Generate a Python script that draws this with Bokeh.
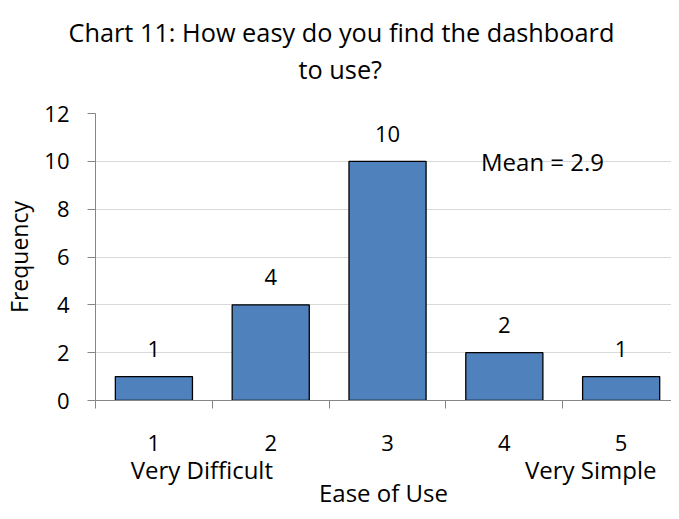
from bokeh.plotting import figure
from bokeh.models import Range1d, FixedTicker, Label, LinearAxis, Title
from bokeh.core.properties import value
from bokeh.embed import file_html
from bokeh.resources import INLINE

# ---- data ----
categories = [1, 2, 3, 4, 5]
frequency = [1, 4, 10, 2, 1]
y_ticks = [0, 2, 4, 6, 8, 10, 12]
title_lines = ["Chart 11: How easy do you find the dashboard", "to use?"]
scale_ends = ["Very Difficult", "Very Simple"]
x_title = "Ease of Use"
y_title = "Frequency"
mean_text = "Mean = 2.9"

FONT = "Open Sans"
AXIS_GREY = "#868686"
GRID_GREY = "#d9d9d9"
BAR_BLUE = "#4f81bd"

p = figure(width=671, height=511, output_backend="svg", toolbar_location=None,
           x_range=Range1d(0.5, 5.431), y_range=Range1d(0, 12),
           min_border_left=88, min_border_right=0, min_border_top=113,
           min_border_bottom=110)
p.outline_line_color = None
p.background_fill_color = "white"
p.border_fill_color = "white"

# x axis: labels at category centres, tick marks between categories
boundaries = [c - 0.5 for c in categories] + [categories[-1] + 0.5]
p.xaxis.ticker = FixedTicker(ticks=categories, minor_ticks=boundaries)
p.xaxis.major_tick_out = 0
p.xaxis.major_tick_in = 0
p.xaxis.minor_tick_out = 8
p.xaxis.minor_tick_in = 0
p.xaxis.minor_tick_line_color = AXIS_GREY
p.xaxis.axis_line_color = AXIS_GREY
p.xaxis.major_label_text_font = FONT
p.xaxis.major_label_text_font_size = "22px"
p.xaxis.major_label_text_color = "black"
p.xaxis.major_label_standoff = 26
p.xgrid.visible = False

# second row below the axis: scale-end captions and the axis title
end_positions = [1.41, 4.74]
caption_axis = LinearAxis(
    ticker=FixedTicker(ticks=end_positions),
    major_label_overrides={end_positions[0]: scale_ends[0],
                           end_positions[1]: scale_ends[1]},
    axis_line_color=None, major_tick_line_color=None,
    minor_tick_line_color=None, major_tick_out=0, major_tick_in=0,
    minor_tick_out=0, minor_tick_in=0,
    major_label_standoff=-1,
    major_label_text_font=FONT, major_label_text_font_size="24px",
    major_label_text_color="black",
    axis_label=x_title, axis_label_text_font=FONT,
    axis_label_text_font_size="24px", axis_label_text_font_style="normal",
    axis_label_text_color="black", axis_label_standoff=-13)
p.add_layout(caption_axis, "below")

# y axis
p.yaxis.ticker = FixedTicker(ticks=y_ticks)
p.yaxis.major_tick_out = 8
p.yaxis.major_tick_in = 0
p.yaxis.minor_tick_line_color = None
p.yaxis.major_tick_line_color = AXIS_GREY
p.yaxis.axis_line_color = AXIS_GREY
p.yaxis.major_label_text_font = FONT
p.yaxis.major_label_text_font_size = "22px"
p.yaxis.major_label_text_color = "black"
p.yaxis.major_label_standoff = 18
p.yaxis.axis_label = y_title
p.yaxis.axis_label_text_font = FONT
p.yaxis.axis_label_text_font_size = "23px"
p.yaxis.axis_label_text_font_style = "normal"
p.yaxis.axis_label_text_color = "black"
p.yaxis.axis_label_standoff = 6
p.ygrid.ticker = FixedTicker(ticks=y_ticks)
p.ygrid.grid_line_color = GRID_GREY
p.ygrid.grid_line_width = 1

# title: a blank spacer strip next to the frame, then the two title lines
spacer = LinearAxis(ticker=FixedTicker(ticks=[categories[0]]),
                    axis_line_color=None, major_tick_line_color="white",
                    minor_tick_line_color=None, major_tick_out=28,
                    major_tick_in=0, minor_tick_out=0, minor_tick_in=0,
                    major_label_standoff=0, major_label_text_font_size="0px",
                    major_label_text_alpha=0)
p.add_layout(spacer, "above")
p.add_layout(Title(text=title_lines[1], align="left", offset=203, standoff=0,
                   text_font=FONT, text_font_size="25.3px",
                   text_font_style="normal", text_color="black"), "above")
p.add_layout(Title(text=title_lines[0], align="left", offset=-27, standoff=2,
                   text_font=FONT, text_font_size="25.3px",
                   text_font_style="normal", text_color="black"), "above")

# bars
p.vbar(x=categories, top=frequency, width=0.66, fill_color=BAR_BLUE,
       line_color="black", line_width=1.3)

# value labels
p.text(x=categories, y=frequency, text=[str(v) for v in frequency],
       text_align="center", text_baseline="middle", y_offset=-27.7,
       text_font=value(FONT), text_font_size="22px", text_color="black")

# mean annotation
p.add_layout(Label(x=3.8, y=9.98, text=mean_text, text_align="left",
                   text_baseline="middle", text_font=FONT,
                   text_font_size="24px", text_color="black"))

open("out.html", "w").write(file_html(p, INLINE))
